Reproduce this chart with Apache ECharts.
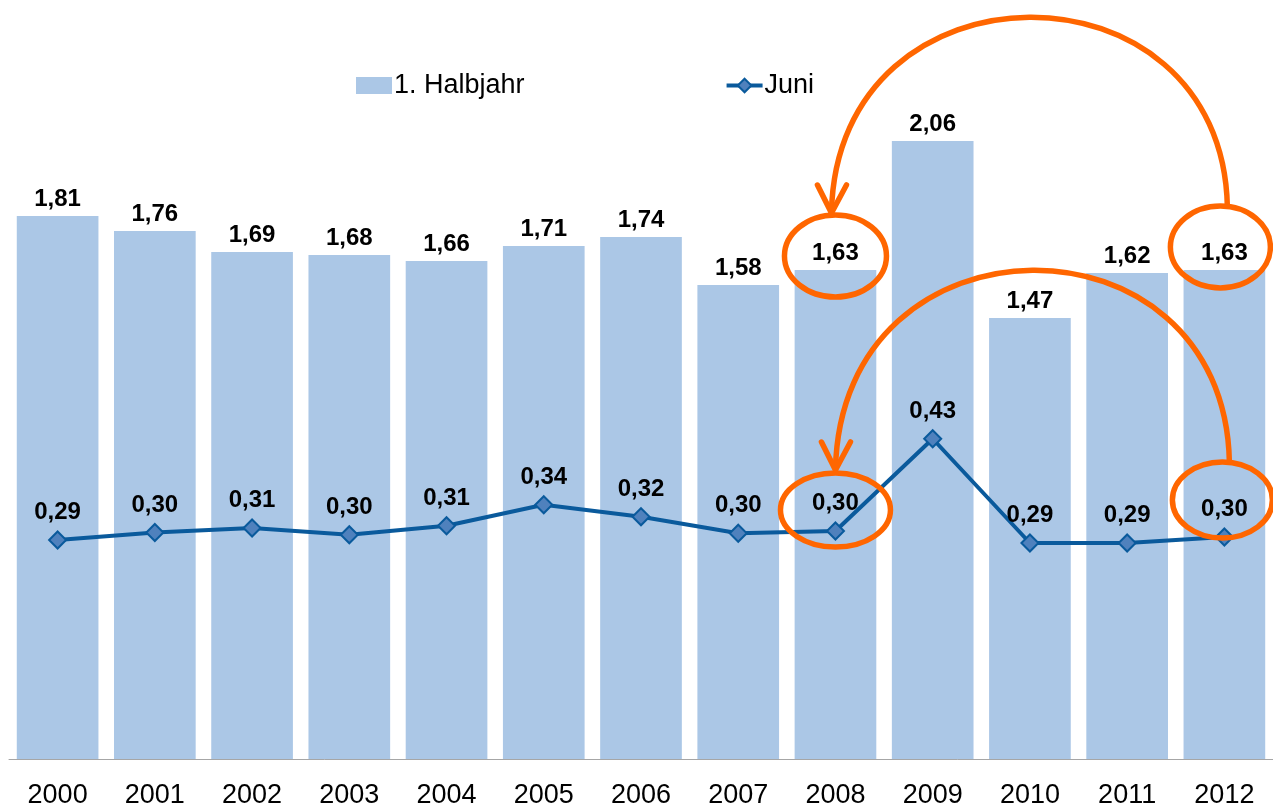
<!DOCTYPE html>
<html>
<head>
<meta charset="utf-8">
<script src="https://cdn.jsdelivr.net/npm/echarts@6/dist/echarts.min.js"></script>
<style>
html,body{margin:0;padding:0;background:#fff;}
#chart{width:1273px;height:809px;}
</style>
</head>
<body>
<div id="chart"></div>
<script>
var categories = ['2000','2001','2002','2003','2004','2005','2006','2007','2008','2009','2010','2011','2012'];
var halbjahr = [1.81,1.76,1.69,1.68,1.66,1.71,1.74,1.58,1.63,2.06,1.47,1.62,1.63];
var juni = [0.292,0.302,0.308,0.299,0.311,0.339,0.323,0.301,0.304,0.427,0.288,0.288,0.296];
var seriesNames = ['1. Halbjahr','Juni'];

var FONT = '"Liberation Sans", Arial, sans-serif';
var ORANGE = '#ff6600';
function fmt(v){ return v.toFixed(2).replace('.', ','); }

var chart = echarts.init(document.getElementById('chart'));
chart.setOption({
  animation: false,
  backgroundColor: '#ffffff',
  textStyle: { fontFamily: FONT },
  legend: {
    left: 356, top: 72, padding: 0,
    itemWidth: 36, itemHeight: 17, itemGap: 200,
    textStyle: { fontFamily: FONT, fontSize: 27, color: '#000', padding: [0,0,0,-3] },
    data: [
      { name: seriesNames[0], icon: 'rect' },
      { name: seriesNames[1], lineStyle: { width: 4, color: '#0a5a9c' } }
    ]
  },
  grid: { left: 9, top: 9, width: 1266, height: 750, containLabel: false },
  xAxis: {
    type: 'category',
    data: categories,
    axisLine: { lineStyle: { color: '#a6a6a6', width: 1 } },
    axisTick: { show: false },
    axisLabel: { fontFamily: FONT, fontSize: 27, color: '#000', margin: 23 }
  },
  yAxis: [
    { type: 'value', min: 0, max: 2.5, show: false, splitLine: { show: false } },
    { type: 'value', min: 0, max: 1.0, show: false, splitLine: { show: false } }
  ],
  series: [
    {
      name: seriesNames[0], type: 'bar', yAxisIndex: 0,
      data: halbjahr, barCategoryGap: '16%',
      itemStyle: { color: '#abc7e6' },
      label: {
        show: true, position: 'top', distance: 5,
        fontFamily: FONT, fontSize: 24, fontWeight: 'bold', color: '#000',
        formatter: function(p){ return fmt(p.value); }
      }
    },
    {
      name: seriesNames[1], type: 'line', yAxisIndex: 1,
      data: juni, symbol: 'diamond', symbolSize: 17,
      lineStyle: { color: '#0a5a9c', width: 4 },
      itemStyle: { color: '#4f81bd', borderColor: '#0a5a9c', borderWidth: 2 },
      label: {
        show: true, position: 'top', distance: 6,
        fontFamily: FONT, fontSize: 24, fontWeight: 'bold', color: '#000',
        formatter: function(p){ return fmt(p.value); }
      }
    }
  ]
});

// Annotations anchored to the data positions
function barTop(i){ return chart.convertToPixel({ seriesIndex: 0 }, [i, halbjahr[i]]); }
function linePt(i){ return chart.convertToPixel({ seriesIndex: 1 }, [i, juni[i]]); }

var a = 8, b = 12;
var tA = barTop(a), tB = barTop(b), lA = linePt(a), lB = linePt(b);
var eTA = { cx: tA[0], cy: tA[1] - 14, rx: 51, ry: 41 };
var eTB = { cx: tB[0] - 4, cy: tB[1] - 23, rx: 50, ry: 41 };
var eLA = { cx: lA[0], cy: lA[1] - 21, rx: 55, ry: 37 };
var eLB = { cx: lB[0] - 2, cy: lB[1] - 37, rx: 50, ry: 38 };

function ell(e){
  return { type: 'ellipse', shape: e, z: 100,
    style: { fill: 'none', stroke: ORANGE, lineWidth: 5.5 } };
}
function arc(start, tip, cpY){
  return { type: 'bezierCurve', z: 100,
    shape: { x1: start[0], y1: start[1], cpx1: start[0] - 5, cpy1: cpY,
             cpx2: tip[0] + 5, cpy2: cpY, x2: tip[0], y2: tip[1] },
    style: { fill: 'none', stroke: ORANGE, lineWidth: 5.5 } };
}
function head(tip){
  return { type: 'polyline', z: 100,
    shape: { points: [[tip[0] - 14, tip[1] - 28], tip, [tip[0] + 15, tip[1] - 28]] },
    style: { fill: 'none', stroke: ORANGE, lineWidth: 5.5, lineCap: 'round', lineJoin: 'round' } };
}
var topStart = [eTB.cx + 7, eTB.cy - eTB.ry + 1];
var topTip = [eTA.cx - 4, eTA.cy - eTA.ry - 2];
var botStart = [eLB.cx + 7, eLB.cy - eLB.ry];
var botTip = [eLA.cx, eLA.cy - eLA.ry - 3];

chart.setOption({
  graphic: [
    ell(eTA), ell(eTB), ell(eLA), ell(eLB),
    arc(topStart, topTip, topStart[1] - 254),
    head(topTip),
    arc(botStart, botTip, botStart[1] - 257),
    head(botTip)
  ]
});
</script>
</body>
</html>
